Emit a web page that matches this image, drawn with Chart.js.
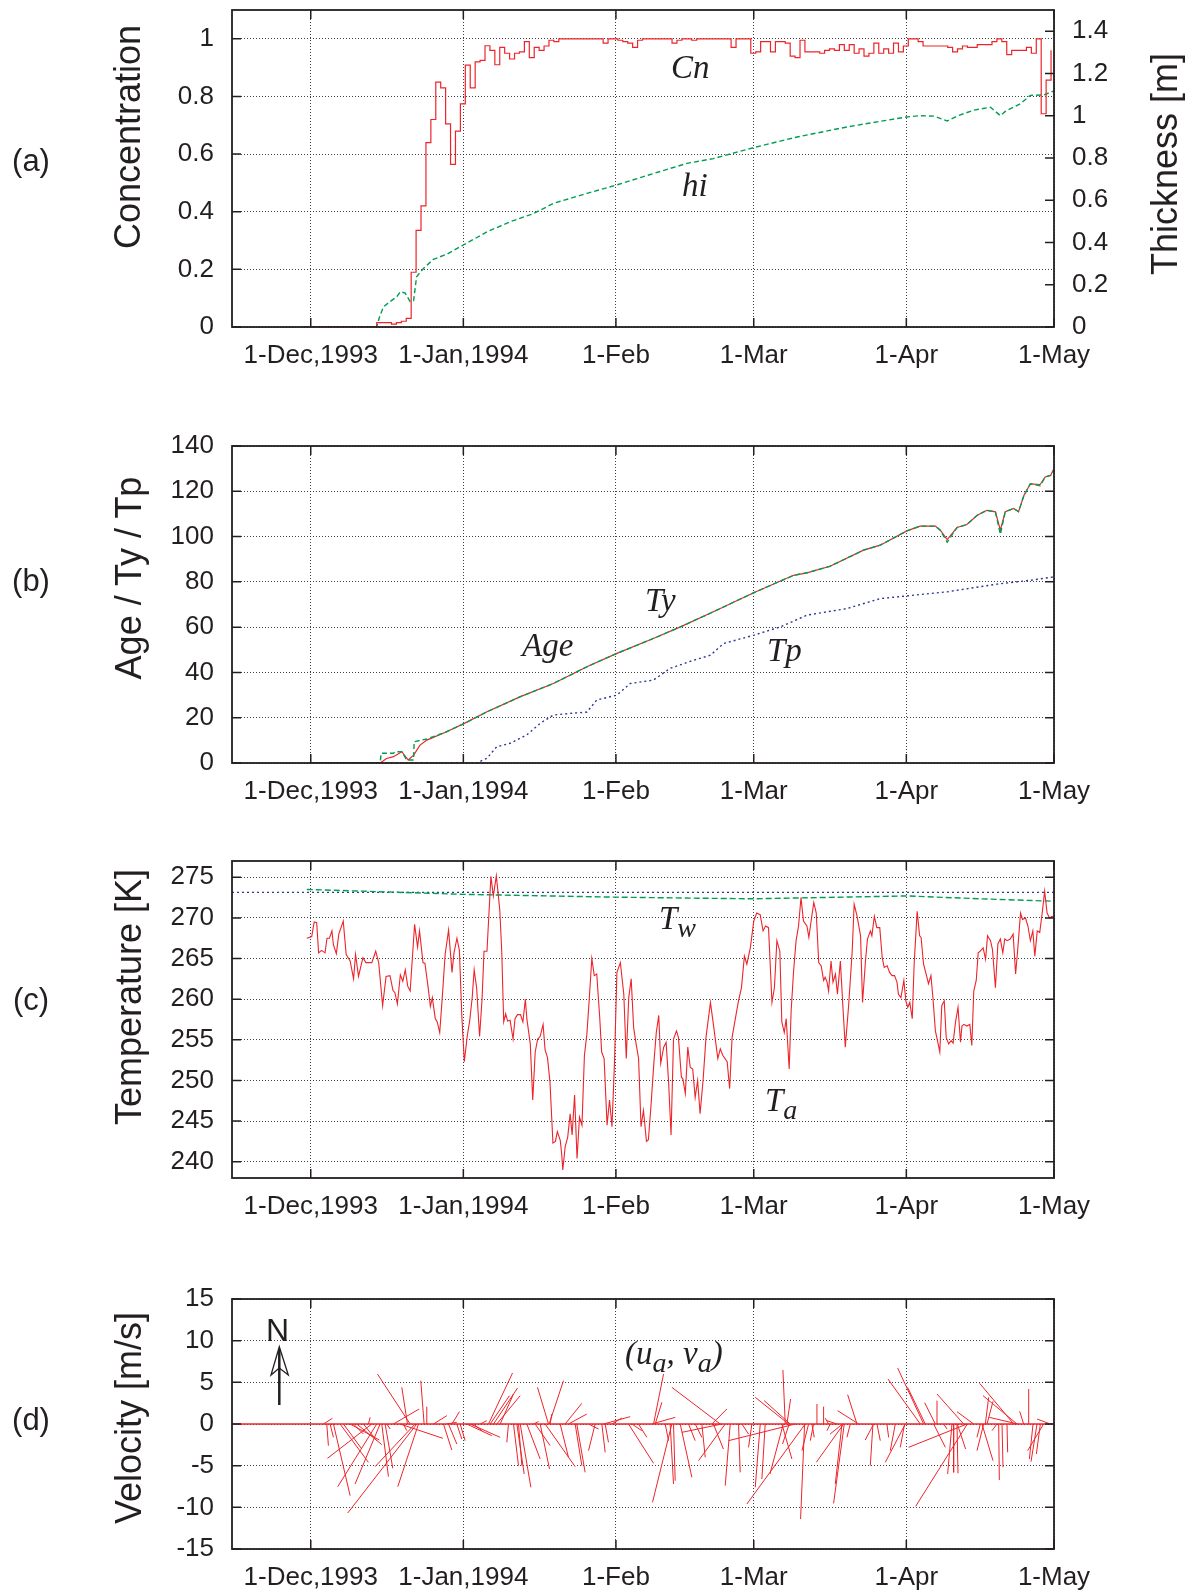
<!DOCTYPE html>
<html>
<head>
<meta charset="utf-8">
<title>Sea ice, 1993-94</title>
<script src="https://cdn.jsdelivr.net/npm/chart.js@4.4.1/dist/chart.umd.min.js"></script>
<style>
  html, body { margin: 0; padding: 0; background: #fff; }
  body { position: relative; width: 1189px; height: 1591px; overflow: hidden; }
  canvas { position: absolute; left: 0; }
  .t { position: absolute; color: #231f20; line-height: 1; white-space: nowrap;
       font-family: "Liberation Sans", Arial, sans-serif; }
  .yt { font-size: 36px; transform: translate(-50%, -50%) rotate(-90deg); }
  .pl { font-size: 31px; transform: translate(-50%, -50%); }
  .sl { font-family: "Liberation Serif", "Times New Roman", serif; font-style: italic; font-size: 33px; }
  .sl sub { font-size: 28px; vertical-align: -8px; line-height: 0; }
</style>
</head>
<body>
<canvas id="chart-a" width="1189" height="421" style="top:-21px"></canvas>
<canvas id="chart-b" width="1189" height="420" style="top:415px"></canvas>
<canvas id="chart-c" width="1189" height="420" style="top:830px"></canvas>
<canvas id="chart-d" width="1189" height="323" style="top:1268px"></canvas>

<div class="t pl" style="left:31px;top:160px">(a)</div>
<div class="t pl" style="left:31px;top:580px">(b)</div>
<div class="t pl" style="left:31px;top:999px">(c)</div>
<div class="t pl" style="left:31px;top:1419px">(d)</div>

<div class="t yt" style="left:128px;top:137px">Concentration</div>
<div class="t yt" style="left:1165px;top:164px">Thickness [m]</div>
<div class="t yt" style="left:129px;top:578px">Age / Ty / Tp</div>
<div class="t yt" style="left:129px;top:997px">Temperature [K]</div>
<div class="t yt" style="left:129px;top:1418px">Velocity [m/s]</div>

<div class="t sl" style="left:671px;top:51px">Cn</div>
<div class="t sl" style="left:682px;top:169px">hi</div>
<div class="t sl" style="left:645px;top:584px">Ty</div>
<div class="t sl" style="left:522px;top:629px">Age</div>
<div class="t sl" style="left:767px;top:634px">Tp</div>
<div class="t sl" style="left:659px;top:902px">T<sub>w</sub></div>
<div class="t sl" style="left:765px;top:1084px">T<sub>a</sub></div>
<div class="t sl" style="left:625px;top:1337px">(u<sub>a</sub>, v<sub>a</sub>)</div>
<div class="t" style="left:266px;top:1314px;font-size:32px">N</div>
<svg style="position:absolute;left:258px;top:1340px" width="42" height="70">
  <line x1="21.3" y1="65" x2="21.3" y2="9" stroke="#231f20" stroke-width="2.5"/>
  <path d="M21.3,6.7 L13,35 L21.3,28 L30.3,35 Z" fill="none" stroke="#231f20" stroke-width="1.3"/>
</svg>

<script>
// days counted from 1-Dec-1993
const X_MIN = -16, X_MAX = 151;
const DATE_TICKS = [0, 31, 62, 90, 121, 151];
const DATE_LABELS = ['1-Dec,1993', '1-Jan,1994', '1-Feb', '1-Mar', '1-Apr', '1-May'];

// (a) ice concentration, daily steps from CN_START_DAY
const CN_START_DAY = -1.6;
const CN = [
  0, 0, 0, 0, 0, 0, 0, 0, 0, 0, 0, 0, 0, 0, 0,
  0.015, 0.015, 0.015, 0.01, 0.015, 0.02, 0.03,
  0.19, 0.335, 0.42, 0.64, 0.72, 0.85, 0.83, 0.705, 0.564, 0.68, 0.774,
  0.909, 0.83, 0.92, 0.925, 0.976, 0.96, 0.91, 0.97, 0.95, 0.93, 0.95, 0.955, 0.99, 0.935, 0.97, 0.96, 0.975, 0.995, 0.99,
  1, 1, 1, 1, 1, 1, 1, 1, 1,
  0.985, 1, 1, 0.995, 0.99, 0.985, 0.97, 0.995,
  1, 1, 1, 1, 1, 1,
  0.985, 0.995,
  1, 1, 0.995, 1, 1, 1, 1, 1, 1, 1,
  0.97, 1, 1, 1,
  0.95, 0.955, 0.99, 0.99, 0.955, 0.99, 0.99, 0.985, 0.94, 0.935, 0.995,
  0.955, 0.955, 0.955, 0.95, 0.96, 0.965, 0.96, 0.98, 0.96, 0.98, 0.95, 0.965, 0.94,
  0.95, 0.985, 0.95, 0.965, 0.95, 0.985, 0.955, 0.975, 1, 1, 0.99,
  0.975, 0.975, 0.975, 0.975, 0.975, 0.97, 0.955, 0.965, 0.975, 0.97, 0.97,
  0.98, 0.98, 0.98, 0.99, 1, 0.99, 0.945, 0.96, 0.96, 0.96, 0.97, 0.95, 1, 0.74, 0.857, 0.96
];
// (a) ice thickness [m]
const HI_DAYS = [-1.6, 13.4, 14.0, 14.8, 16.1, 17.5, 18.2, 19.2, 20.2, 20.9, 21.5, 22.9, 24.9, 27.7, 31.0, 35.8,
  40.5, 45.3, 49.3, 56.1, 62.0, 69.6, 76.4, 81.8, 90.0, 98.8, 109.0, 121.1, 123.8, 126.6, 129.3, 131.3,
  134.7, 138.1, 140.1, 141.1, 144.2, 146.2, 148.9, 151];
const HI = [0, 0, 0.05, 0.096, 0.12, 0.144, 0.167, 0.16, 0.12, 0.125, 0.238, 0.277, 0.32, 0.345, 0.388, 0.45,
  0.498, 0.537, 0.585, 0.632, 0.671, 0.726, 0.774, 0.797, 0.849, 0.899, 0.947, 0.994, 1.0, 0.998, 0.975, 0.998,
  1.026, 1.04, 1.0, 1.02, 1.057, 1.096, 1.098, 1.117];
const CONC_TICKS = [0, 0.2, 0.4, 0.6, 0.8, 1];
const THICK_TICKS = [0, 0.2, 0.4, 0.6, 0.8, 1, 1.2, 1.4];

// (b) age / Ty / Tp [days]
const AGE_DAYS = [0, 14.1, 15.4, 16.8, 18.5, 19.8, 20.9, 22.2, 23.6, 27.6, 31.2, 35.8, 42.6, 49.3, 56.1, 62.2,
  69.6, 75.1, 81.8, 90.1, 98.1, 100.8, 105.5, 112.3, 115.7, 121.1, 123.8, 126.9, 127.9, 129.3, 131.3, 133.3,
  135.4, 137.4, 139.1, 140.1, 141.1, 142.8, 143.8, 144.9, 146.2, 148.2, 149.2, 150.3, 151];
const AGE = [0, 0, 2, 2.8, 5.0, 1.3, 3.5, 7.9, 10.1, 13.8, 17.5, 22.6, 29.3, 35.1, 42.5, 48.4,
  55.0, 60.1, 66.8, 75.3, 82.9, 84.0, 86.9, 94.0, 96.2, 102.5, 104.6, 104.6, 102.8, 98.7, 104.0, 105.3,
  109.4, 111.6, 110.9, 102.8, 111.0, 112.4, 111.0, 118.2, 123.3, 123.0, 126.3, 127.0, 130.0];
const TY_DAYS = [0, 14.1, 14.3, 16.8, 17.2, 18.5, 19.5, 20.9, 21.0, 23.6, 27.6, 31.2, 35.8, 42.6, 49.3, 56.1,
  62.2, 69.6, 75.1, 81.8, 90.1, 98.1, 100.8, 105.5, 112.3, 115.7, 121.1, 123.8, 126.9, 127.9, 129.3, 131.3,
  133.3, 135.4, 137.4, 139.1, 140.1, 141.1, 142.8, 143.8, 144.9, 146.2, 148.2, 149.2, 150.3, 151];
const TY = [0, 0, 4.3, 4.3, 5.0, 5.0, 1.3, 1.3, 9.4, 10.6, 13.8, 17.5, 22.6, 29.3, 35.1, 42.5,
  48.4, 55.0, 60.1, 66.8, 75.3, 82.9, 84.0, 86.9, 94.0, 96.2, 102.5, 104.6, 104.6, 102.8, 97.5, 104.0,
  105.3, 109.4, 111.6, 110.9, 101.0, 111.0, 112.4, 111.0, 118.2, 123.3, 122.5, 126.3, 127.0, 129.5];
const TP_DAYS = [0, 33.7, 35.8, 37.8, 40.5, 43.9, 46.6, 49.3, 52.7, 56.1, 58.1, 62.2, 64.9, 69.6, 73.0, 77.8,
  81.2, 83.9, 90.1, 95.4, 100.8, 108.9, 115.7, 121.1, 129.3, 139.4, 146.2, 151];
const TP = [0, 0, 2.1, 7.2, 8.7, 12.4, 17.5, 21.2, 21.9, 22.5, 27.8, 30.0, 35.1, 36.6, 41.8, 45.4,
  47.6, 52.8, 56.5, 60.1, 65.3, 68.2, 72.6, 73.8, 75.6, 79.0, 80.7, 82.2];
const AGE_TICKS = [0, 20, 40, 60, 80, 100, 120, 140];

// (c) air temperature Ta and water temperature Tw [K]
const TA_DAYS = [
  -0.8, 0.2, 0.7, 1.2, 1.6, 2.2, 2.9, 3.3, 3.8, 4.3, 4.6, 5.2, 5.7, 6.6, 7.2, 8.0, 8.7, 9.1, 9.7, 10.6,
  11.2, 12.4, 13.2, 13.8, 14.6, 15.3, 16.1, 16.7, 17.1, 17.6, 18.2, 18.7, 19.2, 19.7, 20.2, 21.1, 21.7, 22.1, 22.8, 23.2,
  23.9, 24.3, 24.7, 25.3, 25.7, 26.2, 26.8, 27.3, 28.0, 28.7, 29.1, 29.7, 30.2, 30.7, 31.2, 31.8, 32.3, 32.8, 33.2, 33.7,
  34.3, 34.8, 35.2, 35.8, 36.6, 37.1, 37.7, 38.4, 38.8, 39.2, 39.6, 40.0, 40.5, 41.1, 41.5, 42.0, 42.6, 43.1, 43.6, 43.9,
  44.6, 45.1, 45.6, 46.1, 46.6, 47.2, 47.6, 48.1, 48.6, 49.2, 49.7, 50.1, 50.7, 51.0, 51.2, 51.7, 52.2, 52.7, 53.1, 53.6,
  54.1, 54.6, 55.1, 55.6, 56.1, 56.6, 57.1, 57.6, 58.1, 58.7, 59.1, 59.6, 60.2, 60.7, 61.2, 61.7, 62.2, 62.9, 63.6, 64.1,
  64.6, 65.1, 65.6, 66.1, 66.6, 67.1, 67.6, 68.2, 68.6, 69.1, 69.7, 70.2, 70.7, 71.1, 71.7, 72.2, 72.7, 73.2, 73.7, 74.3,
  74.7, 75.3, 75.6, 76.1, 76.6, 77.1, 77.6, 78.1, 78.6, 79.1, 79.7, 80.3, 81.2, 81.8, 82.7, 83.2, 83.7, 84.6, 85.1, 85.6,
  86.2, 86.9, 87.5, 88.1, 88.6, 89.3, 90.0, 90.6, 91.3, 91.9, 92.4, 93.0, 93.7, 94.2, 94.7, 95.3, 95.7, 96.2, 96.6, 97.2,
  97.6, 98.1, 98.6, 99.1, 99.6, 100.1, 100.8, 101.2, 101.7, 102.2, 102.7, 103.2, 103.7, 104.2, 104.5, 104.9, 105.2, 105.7, 106.1, 106.6,
  107.0, 107.6, 108.1, 108.6, 109.3, 110.0, 110.4, 111.0, 111.7, 112.1, 112.7, 113.1, 113.7, 114.0, 114.5, 115.0, 115.6, 116.1, 116.5, 117.1,
  117.6, 118.1, 118.6, 119.1, 119.4, 119.9, 120.5, 120.9, 121.3, 121.7, 122.2, 122.6, 123.2, 123.7, 124.0, 124.5, 125.1, 125.5, 126.0, 126.4,
  126.9, 127.4, 127.8, 128.2, 128.7, 129.1, 129.6, 130.1, 130.5, 131.0, 131.5, 132.0, 132.3, 132.7, 133.3, 133.9, 134.3, 134.7, 135.2, 135.6,
  136.0, 136.6, 137.1, 137.5, 138.1, 138.5, 139.1, 139.6, 140.1, 140.6, 141.0, 141.5, 142.1, 142.7, 143.2, 143.6, 144.2, 144.6, 145.2, 145.7,
  146.2, 146.7, 147.1, 147.6, 148.1, 148.6, 149.1, 149.6, 150.1, 150.6, 151.0
];
const TA = [
  267.5, 267.7, 269.5, 269.4, 265.7, 266.0, 265.7, 267.5, 267.5, 268.4, 266.7, 265.6, 268.0, 269.6, 265.5, 264.7, 262.5, 265.5, 262.8, 265.1,
  264.5, 264.5, 265.9, 264.5, 259.2, 262.8, 262.9, 261.1, 260.8, 259.4, 263.0, 262.2, 263.6, 261.6, 261.0, 269.2, 266.4, 268.4, 264.5, 264.4,
  261.2, 259.1, 260.2, 257.6, 257.2, 255.9, 260.9, 265.5, 268.5, 263.3, 265.7, 267.5, 266.0, 257.8, 252.3, 255.5, 257.4, 260.2, 263.6, 261.4,
  255.4, 260.0, 265.9, 265.9, 275.1, 272.7, 275.2, 271.0, 265.9, 257.2, 258.2, 257.3, 257.4, 255.1, 257.6, 258.1, 258.1, 257.2, 260.0, 257.6,
  254.5, 247.6, 253.5, 255.1, 255.4, 256.9, 253.8, 252.8, 249.8, 242.3, 242.5, 243.7, 242.6, 240.8, 239.0, 241.9, 243.0, 245.9, 243.3, 248.2,
  240.4, 245.5, 244.5, 253.1, 255.7, 260.2, 265.0, 262.9, 263.1, 257.8, 253.5, 252.7, 244.5, 247.6, 244.3, 252.1, 263.3, 264.5, 260.6, 252.7,
  260.2, 262.5, 256.5, 254.5, 252.7, 244.3, 246.3, 242.5, 242.7, 246.7, 252.1, 255.9, 258.0, 252.1, 254.1, 254.7, 249.8, 243.3, 255.1, 256.1,
  255.3, 250.4, 250.2, 248.4, 254.1, 251.6, 251.4, 247.9, 250.0, 245.9, 250.0, 255.3, 259.6, 256.9, 252.7, 253.9, 253.1, 252.3, 249.0, 255.3,
  257.4, 259.8, 261.4, 265.3, 264.3, 266.3, 269.6, 270.6, 270.4, 268.4, 269.0, 268.8, 259.6, 261.4, 267.2, 265.9, 257.2, 255.9, 257.6, 251.4,
  258.6, 263.5, 267.2, 269.0, 272.5, 269.6, 269.0, 267.6, 269.8, 271.9, 270.6, 264.5, 264.1, 262.3, 262.7, 262.1, 261.0, 264.7, 262.1, 263.1,
  260.6, 264.7, 259.2, 254.1, 259.4, 265.9, 271.7, 270.2, 267.8, 259.6, 264.7, 267.4, 268.4, 267.8, 270.2, 268.8, 268.8, 265.1, 263.9, 264.1,
  263.3, 262.9, 262.9, 262.1, 260.6, 260.2, 262.3, 259.8, 259.0, 259.6, 257.6, 264.5, 270.8, 267.8, 267.6, 264.3, 262.9, 261.9, 262.9, 260.2,
  256.1, 254.7, 253.5, 259.2, 259.8, 255.3, 254.5, 254.9, 254.6, 257.2, 259.0, 254.7, 256.7, 256.9, 256.7, 256.9, 254.3, 261.0, 262.3, 265.7,
  265.9, 266.3, 264.9, 267.8, 267.2, 266.1, 261.4, 266.8, 267.4, 265.7, 267.4, 267.2, 267.4, 268.0, 263.1, 265.9, 270.6, 269.8, 270.0, 269.0,
  267.2, 268.4, 265.3, 268.4, 268.2, 270.6, 273.3, 270.6, 270.0, 270.2, 270.1
];
const TW_DAYS = [-0.8, 31.0, 62.2, 75.1, 90.0, 121.1, 136.0, 151];
const TW = [273.5, 272.9, 272.55, 272.45, 272.35, 272.7, 272.35, 272.05];
const FREEZE_K = 273.15;
const TEMP_TICKS = [240, 245, 250, 255, 260, 265, 270, 275];

// (d) wind vectors (u east, v north) [m/s]
const WIND_DAY = [
  2.57, 3.25, 3.93, 4.61, 5.96, 6.64, 7.99, 8.67, 9.35, 10.70,
  11.72, 12.40, 13.41, 14.09, 14.43, 15.11, 15.45, 16.80, 18.16, 18.83,
  19.65, 20.19, 21.20, 21.54, 21.88, 23.03, 23.57, 24.93, 26.96, 27.64,
  27.98, 28.66, 29.67, 30.35, 31.70, 32.38, 33.06, 34.41, 36.11, 36.45,
  37.13, 37.80, 38.48, 40.17, 41.19, 41.87, 42.21, 42.55, 43.90, 45.26,
  45.59, 46.61, 47.62, 48.30, 48.43, 48.64, 50.67, 51.68, 52.36, 53.72,
  54.05, 56.43, 57.78, 59.14, 59.47, 59.81, 61.17, 64.56, 65.23, 66.59,
  69.30, 69.64, 69.98, 72.01, 73.02, 73.36, 73.70, 75.06, 76.75, 78.11,
  79.46, 81.49, 81.80, 83.19, 83.53, 84.20, 85.22, 86.91, 87.59, 89.62,
  91.32, 92.33, 95.72, 96.00, 96.40, 96.74, 97.08, 97.20, 97.41, 98.43,
  100.33, 100.46, 101.14, 101.82, 102.16, 102.84, 104.19, 105.20, 105.55, 106.90,
  107.92, 108.05, 108.26, 108.39, 109.61, 110.97, 111.30, 114.22, 114.35, 115.03,
  117.06, 118.76, 120.65, 120.79, 123.84, 124.52, 124.85, 126.55, 126.89, 127.23,
  128.58, 130.27, 130.61, 131.29, 131.35, 132.65, 133.32, 133.40, 134.68, 136.03,
  136.37, 136.71, 137.05, 137.39, 139.42, 139.76, 140.44, 141.45, 142.81, 143.49,
  143.60, 144.84, 145.86, 146.74, 147.55, 148.23, 148.90, 150.26
];
const WIND_U = [
  1.08, 0.2, 0.4, 2.0, 3.4, 2.2, 3.52, 1.2, 3.0, 1.6,
  0.2, -5.32, -4.68, -3.0, 0.8, 0.92, 0.4, 3.08, 5.12, 0.4,
  -0.68, -3.92, -4.8, -8.28, -2.48, -0.4, 0, 1.6, 1.0, 1.2,
  1.0, 0.92, 0.6, 0.6, 3.0, 3.6, 1.0, 0.8, 2.88, 2.32,
  2.88, 2.8, 1.6, -0.2, 0.6, 0.88, 0.4, 1.28, 1.6, 0.6,
  1.8, 1.12, 3.6, -1.32, 1.72, 0.2, 1.0, 2.0, 2.2, 0.8,
  1.0, 1.2, -0.8, 0.4, 3.2, 0.4, 1.2, 3.0, 1.2, 1.0,
  2.8, 1.2, 0.8, 0.4, 0.4, -2.32, 0.2, 1.4, 0.8, 0.8,
  0.4, 1.8, 1.2, -5.8, -4.8, -3.2, -0.6, 0.2, 0.8, -0.4,
  -0.6, -0.4, 1.2, -1.6, -0.28, 0.44, -4.0, -0.8, -3.12, -8.0,
  -0.48, -7.0, -0.8, 0.28, -0.4, 0, 0, -0.4, -0.4, -1.2,
  -0.8, -1.5, -3.28, -1.28, -0.4, -1.12, -2.52, -0.32, -1.0, 0.4,
  0.2, -0.6, -0.52, -2.4, -3.88, -3.12, -2.12, 1.4, -1.28, 0,
  0.4, -0.52, 0, 0.12, 1.0, -3.2, -7.0, -6.2, -2.0, -0.4,
  1.32, -0.8, 0.4, 0.72, -0.6, 0.08, 0.12, 0.08, -4.08, -4.08,
  -3.4, -0.48, 0, -0.44, -0.72, -0.48, -1.92, -1.6
];
const WIND_V = [
  0.68, -2.6, -1.6, -8.6, -4.6, -3.0, -1.92, -1.2, -2.48, -2.0,
  0.8, -4.12, -7.52, -7.2, -6.32, -5.32, -0.6, 1.8, -1.72, -0.8,
  4.4, 6.0, -5.12, -10.68, -7.52, 5.2, 2.08, 1.0, -3.12, 0.2,
  -2.4, 1.48, -1.8, -2.0, -1.4, -1.6, -0.8, 0.4, 6.12, 3.4,
  4.32, 3.4, 3.6, -2.2, -5.0, -6.0, -5.0, -7.6, -4.2, 0.3,
  -2.6, -5.4, -5.12, 4.4, 5.2, 1.2, -4.0, 2.48, 1.2, -5.0,
  -5.8, -0.6, -3.2, -3.4, 0.88, -2.2, 0.72, -4.72, -0.8, -1.6,
  0.8, 6.0, 2.6, -2.0, -7.2, -9.4, -6.8, -6.4, -2.0, -1.6,
  -4.0, 1.8, -3.0, 4.4, -1.0, -4.4, -7.4, -5.8, -1.2, -2.8,
  -7.6, -6.6, -4.2, -6.0, 6.48, 3.0, 3.2, -2.4, 2.8, -2.0,
  -11.4, -9.6, -3.2, -1.6, -2.0, 2.4, 2.08, 0.7, -0.8, 0.4,
  -7.2, -1.2, -4.6, -9.52, -1.6, 3.52, 1.6, -5.0, -1.92, -2.0,
  -1.6, -3.2, -2.8, -4.6, 5.4, 6.72, 4.4, -2.8, 2.56, 2.8,
  -0.6, -6.0, -5.8, -5.92, -3.0, 3.6, -2.8, -9.88, 1.48, -1.6,
  -4.4, -3.2, 3.2, 2.72, -0.8, -6.72, -5.2, -3.4, 4.88, 3.4,
  0.8, 1.52, 4.2, -4.2, -4.52, -3.6, -3.2, 0.6
];
const VEL_TICKS = [-15, -10, -5, 0, 5, 10, 15];
const UV_DAYS_PER_MS = 1.694;   // horizontal stick length, days per m/s

const INK = '#231f20';
const GRID = 'rgba(35,31,32,0.85)';
const RED = 'rgb(237,36,42)';
const GREEN = 'rgb(0,158,80)';
const BLUE = 'rgb(46,54,150)';
const TICK_FONT = { family: '"Liberation Sans", Arial, sans-serif', size: 26, lineHeight: 1 };

Chart.defaults.font.family = TICK_FONT.family;

const fmt = v => String(Math.round(v * 10) / 10);
const pairs = (xs, ys) => xs.map((x, i) => ({ x: x, y: ys[i] }));

// gnuplot-like frame with inward tick marks on all sides
const framePlugin = {
  id: 'frame',
  afterDatasetsDraw(chart) {
    const { ctx, chartArea: a, scales } = chart;
    const L = 9;
    ctx.save();
    ctx.strokeStyle = INK;
    ctx.lineWidth = 1.5;
    ctx.beginPath();
    scales.x.ticks.forEach(t => {
      const p = scales.x.getPixelForValue(t.value);
      ctx.moveTo(p, a.bottom); ctx.lineTo(p, a.bottom - L);
      ctx.moveTo(p, a.top); ctx.lineTo(p, a.top + L);
    });
    scales.y.ticks.forEach(t => {
      const p = scales.y.getPixelForValue(t.value);
      ctx.moveTo(a.left, p); ctx.lineTo(a.left + L, p);
      if (!scales.y2) { ctx.moveTo(a.right, p); ctx.lineTo(a.right - L, p); }
    });
    if (scales.y2) {
      scales.y2.ticks.forEach(t => {
        const p = scales.y2.getPixelForValue(t.value);
        ctx.moveTo(a.right, p); ctx.lineTo(a.right - L, p);
      });
    }
    ctx.stroke();
    ctx.lineWidth = 1.8;
    ctx.strokeRect(a.left, a.top, a.right - a.left, a.bottom - a.top);
    ctx.restore();
  }
};

function dateAxis(axisHeight) {
  return {
    type: 'linear', min: X_MIN, max: X_MAX,
    afterBuildTicks: s => { s.ticks = DATE_TICKS.map(value => ({ value })); },
    afterFit: s => { s.height = axisHeight; },
    ticks: { font: TICK_FONT, color: INK, padding: 16, maxRotation: 0, autoSkip: false,
             callback: (v, i) => DATE_LABELS[i] },
    grid: { drawTicks: false, color: GRID, lineWidth: 1 },
    border: { display: false, dash: [1, 2] }
  };
}

function valueAxis(min, max, tickValues, position, width, showGrid) {
  return {
    type: 'linear', position: position, min: min, max: max,
    afterBuildTicks: s => { s.ticks = tickValues.map(value => ({ value })); },
    afterFit: s => { s.width = width; },
    ticks: { font: TICK_FONT, color: INK, padding: 18, callback: v => fmt(v) },
    grid: { display: showGrid, drawTicks: false, color: GRID, lineWidth: 1 },
    border: { display: false, dash: [1, 2] }
  };
}

function panel(id, axisHeight, yScales, datasets, rightPad) {
  return new Chart(document.getElementById(id), {
    type: 'line',
    data: { datasets: datasets },
    options: {
      responsive: false,
      animation: false,
      events: [],
      layout: { padding: { top: 30, left: 0, right: rightPad, bottom: 0 } },
      plugins: { legend: { display: false }, tooltip: { enabled: false } },
      elements: { point: { radius: 0 }, line: { tension: 0 } },
      scales: Object.assign({ x: dateAxis(axisHeight) }, yScales)
    },
    plugins: [framePlugin]
  });
}

// (a)
panel('chart-a', 73, {
  y: valueAxis(0, 1.1, CONC_TICKS, 'left', 232, true),
  y2: valueAxis(0, 1.5, THICK_TICKS, 'right', 135, false)
}, [
  { label: 'Cn', data: CN.map((v, i) => ({ x: CN_START_DAY + i, y: v })), yAxisID: 'y',
    borderColor: RED, borderWidth: 1.2, stepped: true },
  { label: 'hi', data: pairs(HI_DAYS, HI), yAxisID: 'y2',
    borderColor: GREEN, borderWidth: 1.4, borderDash: [5, 3] }
], 0);

// (b)
panel('chart-b', 72, {
  y: valueAxis(0, 140, AGE_TICKS, 'left', 232, true)
}, [
  { label: 'Ty', data: pairs(TY_DAYS, TY), borderColor: GREEN, borderWidth: 1.4, borderDash: [5, 3] },
  { label: 'Age', data: pairs(AGE_DAYS, AGE), borderColor: RED, borderWidth: 1.2 },
  { label: 'Tp', data: pairs(TP_DAYS, TP), borderColor: BLUE, borderWidth: 1.4, borderDash: [2, 3] }
], 135);

// (c)
panel('chart-c', 72, {
  y: valueAxis(238, 277, TEMP_TICKS, 'left', 232, true)
}, [
  { label: 'Ta', data: pairs(TA_DAYS, TA), borderColor: RED, borderWidth: 1.1 },
  { label: 'Tw', data: pairs(TW_DAYS, TW), borderColor: GREEN, borderWidth: 1.4, borderDash: [6, 3] },
  { label: 'freezing', data: [{ x: X_MIN, y: FREEZE_K }, { x: X_MAX, y: FREEZE_K }],
    borderColor: BLUE, borderWidth: 1.3, borderDash: [2, 3] }
], 135);

// (d) wind sticks from the zero line
const sticks = [];
WIND_DAY.forEach((d, i) => {
  sticks.push({ x: d, y: 0 }, { x: d + WIND_U[i] * UV_DAYS_PER_MS, y: WIND_V[i] }, { x: d, y: null });
});
panel('chart-d', 42, {
  y: valueAxis(-15, 15, VEL_TICKS, 'left', 232, true)
}, [
  { label: '(ua, va)', data: sticks, borderColor: RED, borderWidth: 1, spanGaps: false },
  { label: 'zero', data: [{ x: X_MIN, y: 0 }, { x: X_MAX, y: 0 }], borderColor: RED, borderWidth: 1.3 }
], 135);
</script>
</body>
</html>
